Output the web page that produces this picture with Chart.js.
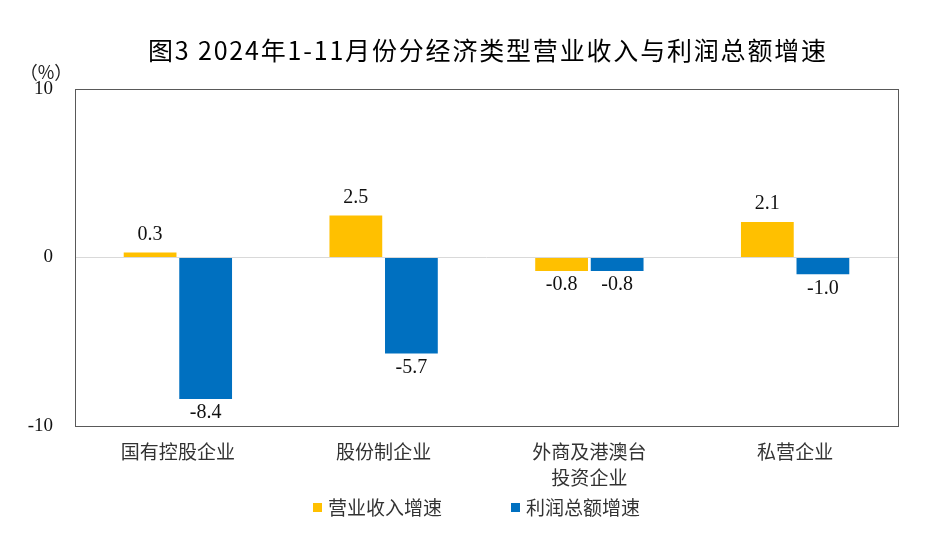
<!DOCTYPE html>
<html>
<head>
<meta charset="utf-8">
<script src="https://cdn.jsdelivr.net/npm/chart.js@4"></script>
<style>
  html, body { margin: 0; padding: 0; background: #fff; }
  #wrap { width: 926px; height: 544px; position: relative; }
</style>
</head>
<body>
<div id="wrap"><canvas id="chart" width="926" height="544"></canvas></div>
<script>
// categories and series
const categories = ["国有控股企业", "股份制企业", ["外商及港澳台", "投资企业"], "私营企业"];
const revenueGrowth = [0.3, 2.5, -0.8, 2.1];
const profitGrowth = [-8.4, -5.7, -0.8, -1.0];
const seriesNames = ["营业收入增速", "利润总额增速"];
const yTicks = [-10, 0, 10];

const title = "图3 2024年1-11月份分经济类型营业收入与利润总额增速";
const cjk = '"Noto Sans CJK SC", "Noto Sans", sans-serif';
const serif = '"Liberation Serif", "DejaVu Serif", serif';

// frame, title, unit, value labels, legend
const decorations = {
  id: "decorations",
  afterDraw(chart) {
    const ctx = chart.ctx;
    const a = chart.chartArea;
    ctx.save();
    ctx.strokeStyle = "#595959";
    ctx.lineWidth = 1;
    ctx.strokeRect(Math.round(a.left) + 0.5, Math.round(a.top) + 0.5,
      Math.round(a.right - a.left), Math.round(a.bottom - a.top));

    // title, stretched to the reference width (148..828)
    ctx.fillStyle = "#000";
    ctx.font = "25px " + cjk;
    ctx.textAlign = "left";
    ctx.textBaseline = "middle";
    const w = ctx.measureText(title).width;
    const n = Array.from(title).length;
    ctx.letterSpacing = Math.max(0, (680 - w) / n).toFixed(2) + "px";
    ctx.fillText(title, 148, 50);
    ctx.letterSpacing = "0px";

    ctx.textAlign = "center";
    ctx.font = "18px " + cjk;
    ctx.fillStyle = "#222";
    ctx.fillText("（%）", 46, 72);

    // value labels
    ctx.font = "20px " + serif;
    ctx.fillStyle = "#111";
    chart.data.datasets.forEach((ds, i) => {
      chart.getDatasetMeta(i).data.forEach((bar, j) => {
        const v = ds.data[j];
        const txt = v.toFixed(1);
        if (v >= 0) {
          ctx.textBaseline = "bottom";
          ctx.fillText(txt, bar.x, bar.y - 8);
        } else {
          ctx.textBaseline = "top";
          ctx.fillText(txt, bar.x, bar.y + 4);
        }
      });
    });

    // legend
    const items = [
      { x: 313, color: chart.data.datasets[0].backgroundColor, text: seriesNames[0] },
      { x: 511, color: chart.data.datasets[1].backgroundColor, text: seriesNames[1] }
    ];
    ctx.font = "19px " + cjk;
    ctx.textAlign = "left";
    ctx.textBaseline = "middle";
    items.forEach(it => {
      ctx.fillStyle = it.color;
      ctx.fillRect(it.x, 503, 9, 9);
      ctx.fillStyle = "#333";
      ctx.fillText(it.text, it.x + 15, 508);
    });
    ctx.restore();
  }
};

new Chart(document.getElementById("chart"), {
  type: "bar",
  data: {
    labels: categories,
    datasets: [
      { label: seriesNames[0], data: revenueGrowth, backgroundColor: "#FFC000" },
      { label: seriesNames[1], data: profitGrowth, backgroundColor: "#0070C0" }
    ]
  },
  options: {
    responsive: false,
    animation: false,
    layout: { padding: { left: 0, right: 28, top: 89, bottom: 0 } },
    datasets: { bar: { categoryPercentage: 0.54, barPercentage: 0.95 } },
    plugins: {
      legend: { display: false },
      tooltip: { enabled: false }
    },
    scales: {
      x: {
        grid: { display: false, drawTicks: false },
        border: { display: false },
        ticks: {
          color: "#333",
          font: { family: cjk, size: 19, lineHeight: 1.4 },
          padding: 12,
          maxRotation: 0,
          autoSkip: false
        },
        afterFit(scale) { scale.height = 118; }
      },
      y: {
        min: -10,
        max: 10,
        afterBuildTicks(scale) { scale.ticks = yTicks.map(v => ({ value: v })); },
        grid: {
          drawTicks: false,
          color: ctx => ctx.tick && ctx.tick.value === 0 ? "#d9d9d9" : "rgba(0,0,0,0)"
        },
        border: { display: false },
        ticks: {
          color: "#111",
          font: { family: serif, size: 19 },
          padding: 22
        },
        afterFit(scale) { scale.width = 75; }
      }
    }
  },
  plugins: [decorations]
});
</script>
</body>
</html>
